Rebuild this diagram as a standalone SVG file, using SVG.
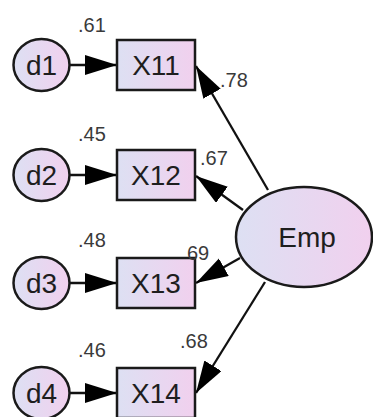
<svg xmlns="http://www.w3.org/2000/svg" width="373" height="417" viewBox="0 0 373 417">
<style>
.node{stroke:#1a1a1a;stroke-width:2.5;fill:url(#g)}
.lbl{font-family:"Liberation Sans",Arial,sans-serif;font-size:28px;fill:#1e1e1e;text-anchor:middle}
.num{font-family:"Liberation Sans",Arial,sans-serif;font-size:20px;fill:#3a3a3a}
.edge{stroke:#111;stroke-width:2.3;fill:none;marker-end:url(#ah)}
</style>
<defs>
<linearGradient id="g" x1="0" y1="0" x2="1" y2="0">
<stop offset="0" stop-color="#dde0f3"/>
<stop offset="1" stop-color="#f1d0ee"/>
</linearGradient>
<marker id="ah" markerUnits="userSpaceOnUse" markerWidth="34" markerHeight="22" refX="32" refY="10" orient="auto">
<path d="M0,0 L32,10 L0,20 z" fill="#000"/>
</marker>
</defs>
<rect width="373" height="417" fill="#fff"/>
<g id="connectors">
<line class="edge" x1="70" y1="65" x2="117" y2="65"/>
<line class="edge" x1="70" y1="175" x2="117" y2="175"/>
<line class="edge" x1="70" y1="283" x2="117" y2="283"/>
<line class="edge" x1="70" y1="393" x2="117" y2="393"/>
<line class="edge" x1="268" y1="190" x2="196" y2="66"/>
<line class="edge" x1="243" y1="210" x2="196" y2="176"/>
<line class="edge" x1="240" y1="258" x2="196" y2="283"/>
<line class="edge" x1="265" y1="282" x2="196" y2="393"/>
</g>
<g id="d1"><ellipse class="node" cx="41.5" cy="65" rx="28" ry="26"/><text class="lbl" x="41.5" y="75">d1</text></g>
<g id="d2"><ellipse class="node" cx="41.5" cy="175" rx="28" ry="26"/><text class="lbl" x="41.5" y="185">d2</text></g>
<g id="d3"><ellipse class="node" cx="41.5" cy="283" rx="28" ry="26"/><text class="lbl" x="41.5" y="293">d3</text></g>
<g id="d4"><ellipse class="node" cx="41.5" cy="393" rx="28" ry="26"/><text class="lbl" x="41.5" y="403">d4</text></g>
<g id="X11"><rect class="node" x="117" y="40" width="78" height="50"/><text class="lbl" x="156" y="75">X11</text></g>
<g id="X12"><rect class="node" x="117" y="150" width="78" height="50"/><text class="lbl" x="156" y="185">X12</text></g>
<g id="X13"><rect class="node" x="117" y="258" width="78" height="50"/><text class="lbl" x="156" y="293">X13</text></g>
<g id="X14"><rect class="node" x="117" y="368" width="78" height="50"/><text class="lbl" x="156" y="403">X14</text></g>
<g id="Emp"><ellipse class="node" cx="304" cy="237" rx="68" ry="50"/><text class="lbl" x="307" y="247">Emp</text></g>
<g id="labels">
<text class="num" x="78" y="32">.61</text>
<text class="num" x="78" y="141">.45</text>
<text class="num" x="78" y="247">.48</text>
<text class="num" x="78" y="357">.46</text>
<text class="num" x="220" y="87">.78</text>
<text class="num" x="200" y="165">.67</text>
<text class="num" x="187" y="260">69</text>
<text class="num" x="180" y="348">.68</text>
</g>
</svg>
